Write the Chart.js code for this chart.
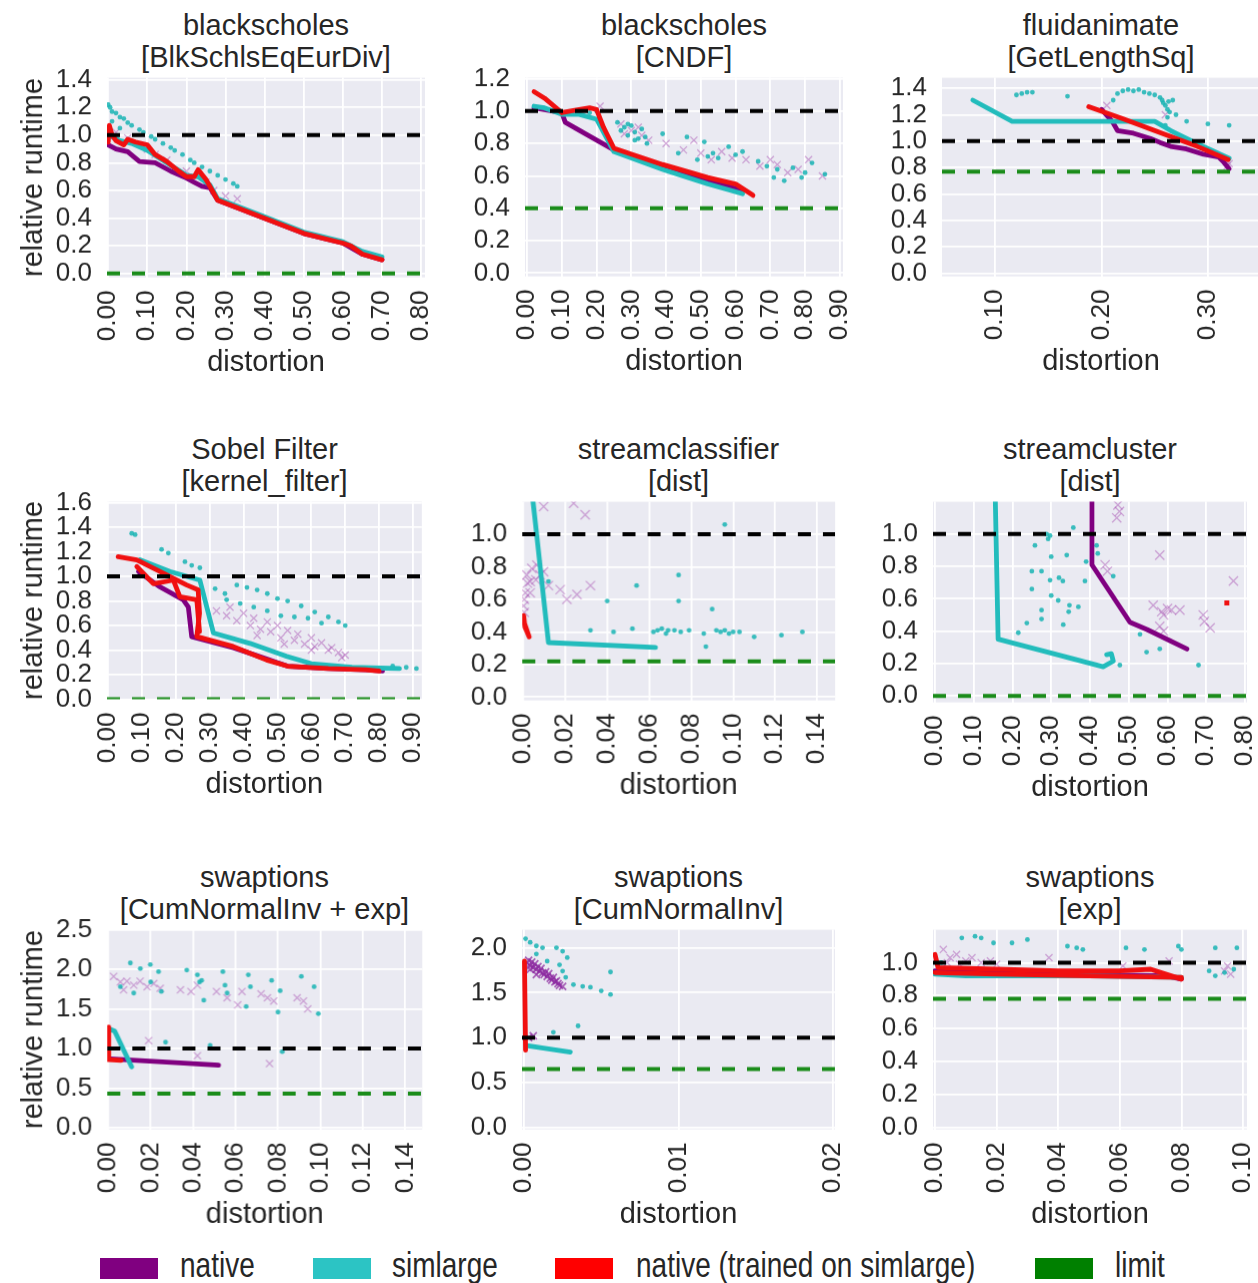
<!DOCTYPE html>
<html lang="en">
  <head>
    <meta charset="utf-8" />
    <title>Relative runtime vs distortion</title>
    <style>
      * {
        margin: 0;
        padding: 0;
      }
      body {
        width: 1258px;
        height: 1283px;
        overflow: hidden;
        position: relative;
        background: #fff;
        font-family: "Liberation Sans", Arial, sans-serif;
        color: #262626;
      }
      .panelTitle {
        position: absolute;
        text-align: center;
        font-size: 29px;
        line-height: 32px;
        white-space: nowrap;
      }
      canvas {
        position: absolute;
      }
      .swatch {
        position: absolute;
        top: 1258px;
        width: 58px;
        height: 21px;
      }
      .legendLabel {
        position: absolute;
        top: 1250px;
        font-size: 28px;
        line-height: 32px;
        white-space: nowrap;
        transform: scaleY(1.25);
        transform-origin: 0 50%;
      }
    </style>
  </head>
  <body>
    <div class="swatch" style="left: 100px; background: #800080"></div>
    <div class="legendLabel" style="left: 180px">native</div>
    <div class="swatch" style="left: 313px; background: #2CC4C4"></div>
    <div class="legendLabel" style="left: 392px">simlarge</div>
    <div class="swatch" style="left: 555px; background: #FF0000"></div>
    <div class="legendLabel" style="left: 636px">native (trained on simlarge)</div>
    <div class="swatch" style="left: 1035px; background: #008000"></div>
    <div class="legendLabel" style="left: 1115px">limit</div>

    <script src="https://cdn.jsdelivr.net/npm/chart.js@4.4.1/dist/chart.umd.min.js"></script>

    <script>
      // ---- blackscholes [BlkSchlsEqEurDiv] ----
      const bsEurXTicks = [0, 0.1, 0.2, 0.3, 0.4, 0.5, 0.6, 0.7, 0.8];
      const bsEurYTicks = [0, 0.2, 0.4, 0.6, 0.8, 1.0, 1.2, 1.4];
      const bsEurLimit = 0.0;
      const bsEurNative = [[0, 0.93], [0.02, 0.9], [0.05, 0.88], [0.08, 0.81], [0.12, 0.8], [0.16, 0.74], [0.2, 0.69], [0.22, 0.66], [0.24, 0.63], [0.26, 0.62], [0.28, 0.53], [0.4, 0.4], [0.5, 0.29], [0.6, 0.22], [0.65, 0.14], [0.7, 0.1]];
      const bsEurSim = [[0, 1.0], [0.03, 0.96], [0.06, 0.94], [0.1, 0.89], [0.15, 0.8], [0.2, 0.71], [0.23, 0.7], [0.26, 0.64], [0.28, 0.54], [0.4, 0.41], [0.5, 0.3], [0.6, 0.23], [0.65, 0.16], [0.7, 0.12]];
      const bsEurTrained = [[0, 0.95], [0.003, 1.07], [0.01, 1.0], [0.02, 0.96], [0.04, 0.93], [0.05, 0.97], [0.07, 0.95], [0.1, 0.93], [0.12, 0.86], [0.15, 0.81], [0.18, 0.74], [0.2, 0.7], [0.22, 0.7], [0.23, 0.75], [0.25, 0.68], [0.26, 0.63], [0.28, 0.53], [0.4, 0.4], [0.5, 0.29], [0.6, 0.22], [0.62, 0.2], [0.65, 0.14], [0.7, 0.1]];
      const bsEurSimPts = [[0, 1.22], [0.005, 1.2], [0.01, 1.17], [0.02, 1.16], [0.03, 1.13], [0.04, 1.12], [0.05, 1.09], [0.06, 1.07], [0.08, 1.04], [0.09, 1.02], [0.11, 0.99], [0.12, 0.97], [0.14, 0.94], [0.16, 0.91], [0.17, 0.89], [0.19, 0.86], [0.21, 0.82], [0.22, 0.8], [0.24, 0.77], [0.26, 0.74], [0.28, 0.71], [0.3, 0.68], [0.32, 0.65], [0.33, 0.63], [0.01, 1.1], [0.03, 1.05]];
      const bsEurNativePts = [[0.02, 1.02], [0.05, 0.98], [0.1, 0.9], [0.12, 0.86], [0.15, 0.82], [0.2, 0.74], [0.25, 0.66], [0.27, 0.6], [0.3, 0.56], [0.33, 0.54]];

      // ---- blackscholes [CNDF] ----
      const bsCndfXTicks = [0, 0.1, 0.2, 0.3, 0.4, 0.5, 0.6, 0.7, 0.8, 0.9];
      const bsCndfYTicks = [0, 0.2, 0.4, 0.6, 0.8, 1.0, 1.2];
      const bsCndfLimit = 0.4;
      const bsCndfNative = [[0.02, 1.02], [0.1, 0.99], [0.11, 0.93], [0.25, 0.76], [0.39, 0.65], [0.52, 0.57], [0.62, 0.51]];
      const bsCndfSim = [[0.02, 1.03], [0.05, 1.02], [0.1, 0.98], [0.15, 0.98], [0.2, 0.95], [0.25, 0.75], [0.39, 0.64], [0.52, 0.55], [0.62, 0.49]];
      const bsCndfTrained = [[0.02, 1.12], [0.05, 1.08], [0.1, 0.99], [0.15, 1.01], [0.18, 1.02], [0.2, 1.01], [0.22, 0.9], [0.25, 0.77], [0.39, 0.67], [0.52, 0.59], [0.6, 0.55], [0.65, 0.48]];
      const bsCndfSimPts = [[0.26, 0.93], [0.27, 0.88], [0.28, 0.9], [0.29, 0.85], [0.3, 0.91], [0.31, 0.87], [0.32, 0.83], [0.33, 0.89], [0.34, 0.84], [0.345, 0.8], [0.31, 0.82], [0.29, 0.92], [0.39, 0.86], [0.435, 0.74], [0.46, 0.84], [0.49, 0.7], [0.51, 0.81], [0.52, 0.72], [0.535, 0.74], [0.55, 0.71], [0.58, 0.78], [0.6, 0.73], [0.62, 0.75], [0.665, 0.69], [0.69, 0.66], [0.71, 0.59], [0.72, 0.64], [0.74, 0.57], [0.765, 0.65], [0.79, 0.59], [0.8, 0.62], [0.82, 0.68], [0.857, 0.61], [0.2, 1.0], [0.18, 0.99]];
      const bsCndfNativePts = [[0.27, 0.92], [0.28, 0.86], [0.3, 0.88], [0.32, 0.9], [0.33, 0.85], [0.35, 0.82], [0.4, 0.8], [0.45, 0.76], [0.48, 0.82], [0.5, 0.74], [0.53, 0.7], [0.56, 0.75], [0.59, 0.71], [0.63, 0.7], [0.67, 0.66], [0.7, 0.7], [0.72, 0.67], [0.75, 0.62], [0.78, 0.64], [0.81, 0.7], [0.85, 0.6], [0.21, 1.03]];

      // ---- fluidanimate [GetLengthSq] ----
      const fluidXTicks = [0.1, 0.2, 0.3];
      const fluidYTicks = [0, 0.2, 0.4, 0.6, 0.8, 1.0, 1.2, 1.4];
      const fluidLimit = 0.77;
      const fluidNative = [[0.2, 1.24], [0.21, 1.15], [0.215, 1.08], [0.23, 1.06], [0.246, 1.02], [0.255, 0.99], [0.265, 0.96], [0.28, 0.94], [0.296, 0.9], [0.31, 0.88], [0.315, 0.84], [0.32, 0.79]];
      const fluidSim = [[0.079, 1.31], [0.116, 1.15], [0.25, 1.15], [0.265, 1.08], [0.29, 0.98], [0.32, 0.87]];
      const fluidTrained = [[0.188, 1.26], [0.22, 1.17], [0.26, 1.05], [0.29, 0.96], [0.319, 0.86]];
      const fluidSimPts = [[0.12, 1.35], [0.125, 1.36], [0.13, 1.37], [0.135, 1.37], [0.168, 1.34], [0.211, 1.31], [0.215, 1.36], [0.22, 1.38], [0.225, 1.39], [0.23, 1.38], [0.235, 1.39], [0.24, 1.37], [0.245, 1.36], [0.25, 1.35], [0.255, 1.33], [0.257, 1.31], [0.26, 1.27], [0.262, 1.24], [0.264, 1.22], [0.262, 1.18], [0.267, 1.31], [0.258, 1.29], [0.263, 1.3], [0.27, 1.2], [0.26, 1.12], [0.28, 1.15], [0.3, 1.13], [0.32, 1.12]];
      const fluidNativePts = [[0.205, 1.27], [0.32, 0.83], [0.318, 0.81], [0.26, 1.2]];

      // ---- Sobel Filter [kernel_filter] ----
      const sobelXTicks = [0, 0.1, 0.2, 0.3, 0.4, 0.5, 0.6, 0.7, 0.8, 0.9];
      const sobelYTicks = [0, 0.2, 0.4, 0.6, 0.8, 1.0, 1.2, 1.4, 1.6];
      const sobelLimit = 0.0;
      const sobelNative = [[0.09, 1.04], [0.15, 0.92], [0.222, 0.81], [0.237, 0.75], [0.247, 0.51], [0.37, 0.42], [0.53, 0.27], [0.65, 0.25], [0.76, 0.24], [0.81, 0.23]];
      const sobelSim = [[0.094, 1.135], [0.183, 1.04], [0.271, 0.97], [0.311, 0.54], [0.419, 0.455], [0.527, 0.35], [0.6, 0.29], [0.72, 0.26], [0.86, 0.25]];
      const sobelTrained = [[0.03, 1.16], [0.085, 1.135], [0.153, 1.04], [0.232, 0.93], [0.266, 0.89], [0.27, 0.7], [0.262, 0.51], [0.369, 0.43], [0.468, 0.32], [0.53, 0.27], [0.65, 0.25], [0.76, 0.24], [0.8, 0.23]];
      const sobelTrainedB = [[0.085, 1.08], [0.134, 0.94], [0.193, 0.97], [0.212, 0.835], [0.262, 0.81], [0.27, 0.55]];
      const sobelSimPts = [[0.07, 1.35], [0.08, 1.34], [0.158, 1.22], [0.178, 1.19], [0.227, 1.12], [0.247, 1.09], [0.271, 1.07], [0.316, 0.9], [0.345, 0.86], [0.38, 0.93], [0.41, 0.91], [0.44, 0.89], [0.47, 0.86], [0.5, 0.82], [0.53, 0.8], [0.57, 0.76], [0.61, 0.71], [0.65, 0.67], [0.68, 0.63], [0.7, 0.6], [0.35, 0.81], [0.39, 0.78], [0.43, 0.75], [0.47, 0.72], [0.51, 0.68], [0.55, 0.67], [0.59, 0.66], [0.63, 0.62], [0.84, 0.27], [0.88, 0.26], [0.91, 0.25]];
      const sobelNativePts = [[0.32, 0.72], [0.35, 0.68], [0.36, 0.75], [0.38, 0.64], [0.4, 0.7], [0.42, 0.6], [0.43, 0.66], [0.45, 0.57], [0.47, 0.63], [0.48, 0.55], [0.5, 0.6], [0.51, 0.5], [0.53, 0.56], [0.55, 0.48], [0.56, 0.53], [0.58, 0.45], [0.6, 0.5], [0.61, 0.43], [0.63, 0.46], [0.65, 0.4], [0.66, 0.42], [0.68, 0.38], [0.7, 0.36], [0.69, 0.34], [0.44, 0.52], [0.52, 0.45], [0.6, 0.4]];

      // ---- streamclassifier [dist] ----
      const sclassXTicks = [0, 0.02, 0.04, 0.06, 0.08, 0.1, 0.12, 0.14];
      const sclassYTicks = [0, 0.2, 0.4, 0.6, 0.8, 1.0];
      const sclassLimit = 0.22;
      const sclassNative = [];
      const sclassSim = [[0.0038, 1.3], [0.012, 0.335], [0.063, 0.305]];
      const sclassTrained = [[0.0002, 0.5], [0.0008, 0.43], [0.0028, 0.37], [0.0004, 0.46]];
      const sclassSimPts = [[0.012, 0.71], [0.032, 0.41], [0.04, 0.59], [0.043, 0.4], [0.054, 0.685], [0.052, 0.42], [0.062, 0.4], [0.064, 0.41], [0.066, 0.42], [0.068, 0.39], [0.069, 0.41], [0.072, 0.41], [0.075, 0.4], [0.079, 0.41], [0.074, 0.75], [0.074, 0.59], [0.086, 0.39], [0.087, 0.31], [0.09, 0.54], [0.092, 0.41], [0.094, 0.4], [0.096, 0.41], [0.098, 0.39], [0.1, 0.4], [0.103, 0.4], [0.11, 0.37], [0.096, 1.06], [0.123, 0.38], [0.133, 0.4]];
      const sclassNativePts = [[0.0002, 0.56], [0.0005, 0.6], [0.001, 0.64], [0.0017, 0.75], [0.0033, 0.71], [0.0041, 0.79], [0.0065, 0.81], [0.008, 0.75], [0.0033, 0.64], [0.0097, 0.77], [0.012, 0.685], [0.0176, 0.66], [0.0208, 0.6], [0.0256, 0.63], [0.032, 0.685], [0.0097, 1.17], [0.024, 1.19], [0.0295, 1.12], [0.0005, 0.52], [0.002, 0.7], [0.006, 0.72]];

      // ---- streamcluster [dist] ----
      const sclusterXTicks = [0, 0.1, 0.2, 0.3, 0.4, 0.5, 0.6, 0.7, 0.8];
      const sclusterYTicks = [0, 0.2, 0.4, 0.6, 0.8, 1.0];
      const sclusterLimit = 0.0;
      const sclusterNative = [[0.405, 1.3], [0.405, 0.81], [0.503, 0.455], [0.547, 0.41], [0.65, 0.29]];
      const sclusterSim = [[0.155, 1.3], [0.163, 0.35], [0.434, 0.18], [0.46, 0.215], [0.455, 0.26], [0.443, 0.255]];
      const sclusterTrained = [[0.753, 0.575]];
      const sclusterSimPts = [[0.215, 0.39], [0.237, 0.45], [0.25, 0.66], [0.25, 0.77], [0.258, 0.93], [0.275, 0.77], [0.275, 0.53], [0.275, 0.475], [0.288, 1.0], [0.297, 0.99], [0.297, 0.715], [0.3, 0.86], [0.3, 0.62], [0.318, 0.59], [0.32, 0.73], [0.331, 0.44], [0.34, 0.87], [0.33, 0.71], [0.345, 0.52], [0.347, 0.56], [0.357, 1.04], [0.37, 0.55], [0.387, 0.71], [0.39, 0.83], [0.417, 0.93], [0.42, 0.88], [0.46, 0.74], [0.477, 0.19], [0.529, 0.38], [0.546, 0.27], [0.58, 0.29], [0.68, 0.19], [0.292, 0.97]];
      const sclusterNativePts = [[0.469, 1.1], [0.476, 1.14], [0.472, 1.18], [0.439, 0.81], [0.445, 0.77], [0.58, 0.87], [0.563, 0.56], [0.585, 0.52], [0.59, 0.5], [0.6, 0.54], [0.61, 0.53], [0.632, 0.53], [0.58, 0.43], [0.59, 0.4], [0.692, 0.5], [0.695, 0.46], [0.71, 0.42], [0.77, 0.71]];

      // ---- swaptions [CumNormalInv + exp] ----
      const swBothXTicks = [0, 0.02, 0.04, 0.06, 0.08, 0.1, 0.12, 0.14];
      const swBothYTicks = [0, 0.5, 1.0, 1.5, 2.0, 2.5];
      const swBothLimit = 0.43;
      const swBothNative = [[0.001, 0.87], [0.052, 0.79]];
      const swBothSim = [[0.0002, 1.25], [0.003, 1.22], [0.011, 0.77]];
      const swBothTrained = [[0.0002, 1.27], [0.0002, 0.86], [0.006, 0.85]];
      const swBothSimPts = [[0.0104, 2.08], [0.0151, 2.01], [0.0198, 2.06], [0.0237, 1.97], [0.025, 1.72], [0.0057, 1.78], [0.012, 1.7], [0.037, 1.99], [0.042, 1.93], [0.044, 1.86], [0.045, 1.61], [0.054, 1.97], [0.055, 1.8], [0.056, 1.7], [0.066, 1.93], [0.067, 1.78], [0.065, 1.53], [0.077, 1.86], [0.081, 1.73], [0.08, 1.46], [0.091, 1.91], [0.097, 1.78], [0.099, 1.44], [0.027, 1.08], [0.048, 1.04], [0.082, 0.96], [0.043, 1.84], [0.02, 1.84]];
      const swBothNativePts = [[0.0025, 1.91], [0.0057, 1.84], [0.0088, 1.85], [0.012, 1.8], [0.015, 1.85], [0.0183, 1.78], [0.0214, 1.82], [0.0245, 1.76], [0.0072, 1.74], [0.034, 1.74], [0.039, 1.72], [0.042, 1.8], [0.051, 1.72], [0.056, 1.64], [0.061, 1.55], [0.063, 1.72], [0.072, 1.69], [0.075, 1.64], [0.078, 1.6], [0.089, 1.64], [0.092, 1.6], [0.094, 1.5], [0.019, 1.1], [0.042, 0.91], [0.076, 0.81]];

      // ---- swaptions [CumNormalInv] ----
      const swCniXTicks = [0, 0.01, 0.02];
      const swCniYTicks = [0, 0.5, 1.0, 1.5, 2.0];
      const swCniLimit = 0.65;
      const swCniNative = [];
      const swCniSim = [[0.00017, 0.91], [0.003, 0.84]];
      const swCniTrained = [[0.00003, 1.85], [0.0001, 0.86]];
      const swCniSimPts = [[0.0001, 2.1], [0.0004, 2.06], [0.0008, 2.02], [0.0012, 2.0], [0.0021, 2.0], [0.0025, 1.96], [0.0028, 1.89], [0.0023, 1.81], [0.0025, 1.74], [0.0027, 1.67], [0.0032, 1.59], [0.0038, 1.57], [0.0043, 1.56], [0.005, 1.52], [0.0056, 1.48], [0.0056, 1.73], [0.0015, 1.85], [0.0008, 1.93], [0.0035, 1.13], [0.0019, 1.06]];
      const swCniNativePts = [[0.0002, 1.83], [0.0003, 1.86], [0.0004, 1.8], [0.0005, 1.84], [0.0006, 1.78], [0.0007, 1.82], [0.0008, 1.76], [0.0009, 1.79], [0.001, 1.74], [0.0011, 1.77], [0.0012, 1.72], [0.0013, 1.7], [0.0014, 1.73], [0.0015, 1.68], [0.0016, 1.71], [0.0017, 1.66], [0.0018, 1.64], [0.0019, 1.67], [0.002, 1.62], [0.0021, 1.63], [0.0022, 1.6], [0.0023, 1.58], [0.0025, 1.57], [0.0004, 1.76], [0.0008, 1.7], [0.0006, 1.02], [0.0003, 1.0]];

      // ---- swaptions [exp] ----
      const swExpXTicks = [0, 0.02, 0.04, 0.06, 0.08, 0.1];
      const swExpYTicks = [0, 0.2, 0.4, 0.6, 0.8, 1.0];
      const swExpLimit = 0.78;
      const swExpNative = [[0, 0.95], [0.04, 0.93], [0.075, 0.92], [0.08, 0.9]];
      const swExpSim = [[0, 0.93], [0.01, 0.92], [0.05, 0.92], [0.08, 0.91]];
      const swExpTrained = [[0, 1.05], [0.001, 0.97], [0.02, 0.96], [0.04, 0.95], [0.06, 0.95], [0.07, 0.96], [0.08, 0.9]];
      const swExpTrainedB = [[0, 0.94], [0.02, 0.93], [0.05, 0.92], [0.08, 0.91]];
      const swExpSimPts = [[0.0087, 1.15], [0.013, 1.16], [0.015, 1.15], [0.019, 1.12], [0.025, 1.12], [0.03, 1.14], [0.043, 1.1], [0.046, 1.09], [0.048, 1.08], [0.062, 1.09], [0.068, 1.08], [0.079, 1.1], [0.08, 1.08], [0.091, 1.09], [0.098, 1.09], [0.089, 0.95], [0.091, 0.92], [0.094, 0.94], [0.097, 0.96], [0.002, 1.0]];
      const swExpNativePts = [[0.0027, 1.08], [0.0049, 1.03], [0.007, 1.05], [0.01, 1.01], [0.012, 1.03], [0.015, 1.0], [0.018, 1.01], [0.008, 0.99], [0.037, 1.03], [0.061, 0.98], [0.076, 1.01], [0.094, 0.95], [0.095, 0.98], [0.096, 0.93], [0.004, 1.0], [0.02, 0.99]];

      const COLORS = {
        native: "#800080",
        simlarge: "#22BCBC",
        trained: "#F01010",
        limit: "#1A8C1A",
        nativePts: "rgba(165, 70, 175, 0.45)",
        nativePtsDense: "rgba(140, 40, 160, 0.7)",
        simPts: "rgba(25, 180, 180, 0.85)",
        plotBg: "#EAEAF2",
        text: "#262626",
      };
      const FONT = "'Liberation Sans', Arial, sans-serif";
      const TICK_SIZE = 26;

      // box = [left, top, right, bottom] of the plotting area in page pixels
      const panels = [
        { title: ["blackscholes", "[BlkSchlsEqEurDiv]"], box: [107, 78, 425, 277], xRange: [-0.003, 0.81], yRange: [-0.027, 1.415], xTicks: bsEurXTicks, yTicks: bsEurYTicks, yTitle: true, limit: bsEurLimit, native: bsEurNative, sim: bsEurSim, trained: [bsEurTrained], simPts: bsEurSimPts, nativePts: bsEurNativePts },
        { title: ["blackscholes", "[CNDF]"], box: [525, 78, 843, 276], xRange: [-0.006, 0.909], yRange: [-0.02, 1.206], xTicks: bsCndfXTicks, yTicks: bsCndfYTicks, yTitle: false, limit: bsCndfLimit, native: bsCndfNative, sim: bsCndfSim, trained: [bsCndfTrained], simPts: bsCndfSimPts, nativePts: bsCndfNativePts },
        { title: ["fluidanimate", "[GetLengthSq]"], box: [942, 78, 1260, 276], xRange: [0.05, 0.349], yRange: [-0.023, 1.48], xTicks: fluidXTicks, yTicks: fluidYTicks, yTitle: false, limit: fluidLimit, native: fluidNative, sim: fluidSim, trained: [fluidTrained], simPts: fluidSimPts, nativePts: fluidNativePts },
        { title: ["Sobel Filter", "[kernel_filter]"], box: [107, 502, 422, 699], xRange: [-0.003, 0.926], yRange: [0, 1.608], xTicks: sobelXTicks, yTicks: sobelYTicks, yTitle: true, limit: sobelLimit, native: sobelNative, sim: sobelSim, trained: [sobelTrained, sobelTrainedB], simPts: sobelSimPts, nativePts: sobelNativePts },
        { title: ["streamclassifier", "[dist]"], box: [522, 502, 835, 700], xRange: [-0.0005, 0.1486], yRange: [-0.02, 1.2], xTicks: sclassXTicks, yTicks: sclassYTicks, yTitle: false, limit: sclassLimit, native: sclassNative, sim: sclassSim, trained: [sclassTrained], simPts: sclassSimPts, nativePts: sclassNativePts, bigCross: true },
        { title: ["streamcluster", "[dist]"], box: [933, 502, 1247, 702], xRange: [-0.005, 0.805], yRange: [-0.04, 1.2], xTicks: sclusterXTicks, yTicks: sclusterYTicks, yTitle: false, limit: sclusterLimit, native: sclusterNative, sim: sclusterSim, trained: [sclusterTrained], simPts: sclusterSimPts, nativePts: sclusterNativePts, bigCross: true },
        { title: ["swaptions", "[CumNormalInv + exp]"], box: [107, 930, 422, 1129], xRange: [-0.0005, 0.148], yRange: [-0.02, 2.5], xTicks: swBothXTicks, yTicks: swBothYTicks, yTitle: true, limit: swBothLimit, native: swBothNative, sim: swBothSim, trained: [swBothTrained], simPts: swBothSimPts, nativePts: swBothNativePts },
        { title: ["swaptions", "[CumNormalInv]"], box: [522, 930, 835, 1129], xRange: [-0.00013, 0.02013], yRange: [-0.02, 2.2], xTicks: swCniXTicks, yTicks: swCniYTicks, yTitle: false, limit: swCniLimit, native: swCniNative, sim: swCniSim, trained: [swCniTrained], simPts: swCniSimPts, nativePts: swCniNativePts, denseCross: true },
        { title: ["swaptions", "[exp]"], box: [933, 930, 1247, 1129], xRange: [-0.00065, 0.1013], yRange: [-0.012, 1.2], xTicks: swExpXTicks, yTicks: swExpYTicks, yTitle: false, limit: swExpLimit, native: swExpNative, sim: swExpSim, trained: [swExpTrained, swExpTrainedB], simPts: swExpSimPts, nativePts: swExpNativePts },
      ];

      const AXIS_W = 100;
      const X_AXIS_H = 104;

      const toXY = (arr) => arr.map(([x, y]) => ({ x, y }));

      const plotBackground = {
        id: "plotBackground",
        beforeDraw(chart) {
          const { ctx, chartArea: a } = chart;
          ctx.save();
          ctx.fillStyle = COLORS.plotBg;
          ctx.fillRect(a.left, a.top, a.right - a.left, a.bottom - a.top);
          ctx.restore();
        },
      };

      function lineSet(data, color, order) {
        return {
          data: toXY(data),
          showLine: true,
          borderColor: color,
          backgroundColor: color,
          borderWidth: 4.8,
          pointRadius: 0,
          borderJoinStyle: "round",
          borderCapStyle: "round",
          clip: 0,
          order,
        };
      }

      function dashedSet(y, range, color) {
        return {
          data: [{ x: range[0], y }, { x: range[1], y }],
          showLine: true,
          borderColor: color,
          borderWidth: 4,
          borderDash: [13, 12],
          pointRadius: 0,
          clip: 0,
          order: 0,
        };
      }

      panels.forEach((p) => {
        const [left, top, right, bottom] = p.box;
        const plotW = right - left;
        const plotH = bottom - top;
        const axisW = p.yTitle ? left : AXIS_W;

        const title = document.createElement("div");
        title.className = "panelTitle";
        title.style.left = left + "px";
        title.style.top = top - 69 + "px";
        title.style.width = plotW + "px";
        p.title.forEach((line, i) => {
          if (i) title.appendChild(document.createElement("br"));
          title.appendChild(document.createTextNode(line));
        });
        document.body.appendChild(title);

        const canvas = document.createElement("canvas");
        canvas.width = plotW + axisW + 40;
        canvas.height = plotH + X_AXIS_H + 40;
        document.body.appendChild(canvas);

        const datasets = [
          dashedSet(1.0, p.xRange, "#000"),
          dashedSet(p.limit, p.xRange, COLORS.limit),
        ];
        p.trained.forEach((t) => {
          if (t.length === 1) {
            datasets.push({
              data: toXY(t),
              pointStyle: "rect",
              pointRadius: 3.5,
              backgroundColor: COLORS.trained,
              borderColor: COLORS.trained,
              borderWidth: 0,
              order: 1,
            });
          } else {
            datasets.push(lineSet(t, COLORS.trained, 1));
          }
        });
        if (p.sim.length) datasets.push(lineSet(p.sim, COLORS.simlarge, 2));
        if (p.native.length) datasets.push(lineSet(p.native, COLORS.native, 3));
        datasets.push({
          data: toXY(p.simPts),
          pointStyle: "circle",
          pointRadius: 2.4,
          backgroundColor: COLORS.simPts,
          borderWidth: 0,
          clip: 0,
          order: 4,
        });
        datasets.push({
          data: toXY(p.nativePts),
          pointStyle: "crossRot",
          pointRadius: p.bigCross ? 6.5 : 5,
          borderColor: p.denseCross ? COLORS.nativePtsDense : COLORS.nativePts,
          borderWidth: p.denseCross ? 1.8 : 1.3,
          clip: 0,
          order: 5,
        });

        const chart = new Chart(canvas, {
          type: "scatter",
          data: { datasets },
          options: {
            responsive: false,
            maintainAspectRatio: false,
            animation: false,
            devicePixelRatio: 1,
            layout: { padding: 0 },
            plugins: { legend: { display: false }, tooltip: { enabled: false } },
            scales: {
              x: {
                type: "linear",
                min: p.xRange[0],
                max: p.xRange[1],
                afterBuildTicks: (scale) => {
                  scale.ticks = p.xTicks.map((v) => ({ value: v }));
                },
                afterFit: (scale) => {
                  scale.height = X_AXIS_H;
                },
                ticks: {
                  autoSkip: false,
                  minRotation: 90,
                  maxRotation: 90,
                  padding: 13,
                  color: COLORS.text,
                  font: { family: FONT, size: TICK_SIZE },
                  callback: (v) => v.toFixed(2),
                },
                grid: { color: "#fff", lineWidth: 1.8, drawTicks: false },
                border: { display: false },
                title: {
                  display: true,
                  text: "distortion",
                  color: COLORS.text,
                  font: { family: FONT, size: 29 },
                  padding: { top: 0, bottom: 1 },
                },
              },
              y: {
                type: "linear",
                min: p.yRange[0],
                max: p.yRange[1],
                afterBuildTicks: (scale) => {
                  scale.ticks = p.yTicks.map((v) => ({ value: v }));
                },
                afterFit: (scale) => {
                  scale.width = axisW;
                },
                ticks: {
                  autoSkip: false,
                  padding: 15,
                  color: COLORS.text,
                  font: { family: FONT, size: TICK_SIZE },
                  callback: (v) => v.toFixed(1),
                },
                grid: { color: "#fff", lineWidth: 1.8, drawTicks: false },
                border: { display: false },
                title: {
                  display: p.yTitle,
                  text: "relative runtime",
                  color: COLORS.text,
                  font: { family: FONT, size: 29 },
                  padding: { top: 17, bottom: 0 },
                },
              },
            },
          },
          plugins: [plotBackground],
        });

        // the layout reserves room around the plot for edge labels; size the
        // canvas so the plotting area lands exactly on the panel box
        const a = chart.chartArea;
        const extraTop = a.top;
        const extraLeft = a.left;
        const extraRight = canvas.width - a.right;
        const extraBottom = canvas.height - a.bottom;
        canvas.style.left = left - extraLeft + "px";
        canvas.style.top = top - extraTop + "px";
        chart.resize(extraLeft + plotW + extraRight, extraTop + plotH + extraBottom);
      });
    </script>
  </body>
</html>
